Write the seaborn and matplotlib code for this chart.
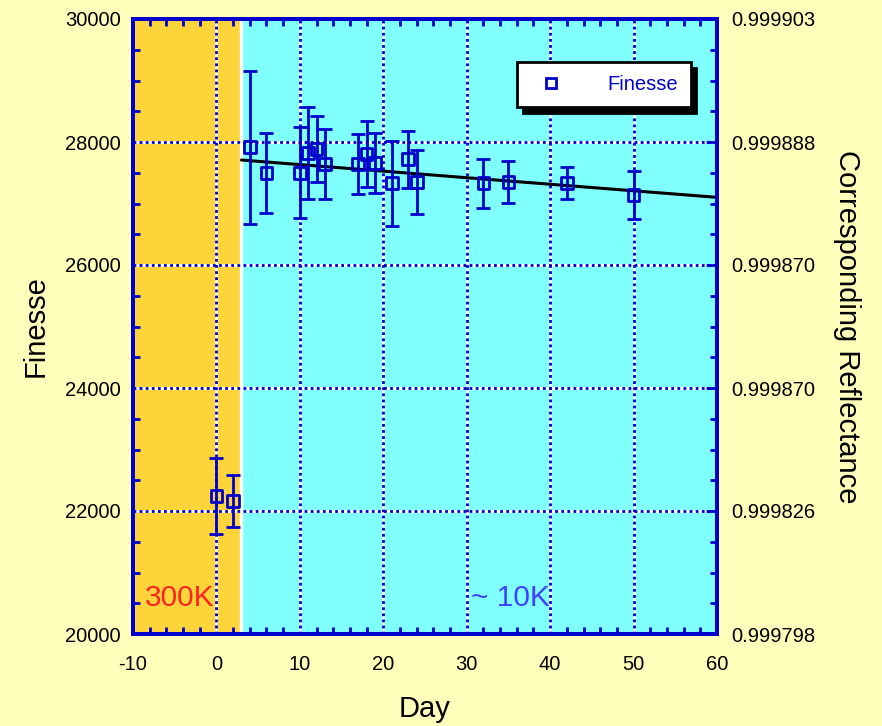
import matplotlib
matplotlib.use("Agg")
import matplotlib.pyplot as plt
from matplotlib.lines import Line2D
from matplotlib.ticker import MultipleLocator, FixedLocator
import seaborn as sns
import pandas as pd
import numpy as np

# ---- data ----
day = [0, 2, 4, 6, 10, 11, 12, 13, 17, 18, 19, 21, 23, 24, 32, 35, 42, 50]
finesse = [22244, 22163, 27914, 27501, 27501, 27827, 27886, 27637, 27637, 27805,
           27659, 27328, 27718, 27355, 27328, 27355, 27328, 27133]
finesse_err = [625, 430, 1240, 650, 740, 750, 530, 570, 485, 540,
               495, 690, 460, 520, 400, 340, 260, 390]
fit_day = [3, 60]
fit_finesse = [27707, 27100]
left_ticks = [20000, 22000, 24000, 26000, 28000, 30000]
right_labels = ["0.999798", "0.999826", "0.999870", "0.999870", "0.999888", "0.999903"]
x_ticks = [-10, 0, 10, 20, 30, 40, 50, 60]
warm_region = [-10, 3]
cold_region = [3, 60]

sns.set_theme(style="ticks")
plt.rcParams['font.family'] = ['Liberation Sans', 'DejaVu Sans']
plt.rcParams['axes.unicode_minus'] = False
plt.rcParams['text.color'] = 'black'
plt.rcParams['axes.labelcolor'] = 'black'

BLUE = "#0000CC"
fig = plt.figure(figsize=(8.82, 7.26), dpi=100, facecolor="#FFFFBB")
ax = fig.add_axes([133/882, 1-634/726, (717-133)/882, (634-19)/726])
ax.set_xlim(-10, 60)
ax.set_ylim(20000, 30000)

ax.axvspan(*warm_region, color="#FDD53A", zorder=0, lw=0)
ax.axvspan(*cold_region, color="#80FFFF", zorder=0, lw=0)
ax.axvline(cold_region[0], color="white", lw=2.5, zorder=1)

# grid: white under blue dots
for xv in x_ticks[1:-1]:
    ax.axvline(xv, color="white", lw=2, zorder=1)
    ax.axvline(xv, color=BLUE, lw=2, ls=(0, (1, 1.2)), zorder=1.1)
for yv in left_ticks[1:-1]:
    ax.axhline(yv, color="white", lw=2, zorder=1)
    ax.axhline(yv, color=BLUE, lw=2, ls=(0, (1, 1.2)), zorder=1.1)

df = pd.DataFrame({"day": day, "finesse": finesse, "err": finesse_err})
fit_df = pd.DataFrame({"day": fit_day, "finesse": fit_finesse})

sns.lineplot(data=fit_df, x="day", y="finesse", color="black", lw=2.2, ax=ax, zorder=3)
ax.errorbar(df["day"], df["finesse"], yerr=df["err"], fmt="none", ecolor=BLUE,
            elinewidth=2, capsize=5, capthick=2, zorder=4)
sns.scatterplot(data=df, x="day", y="finesse", marker="s", s=72, facecolor="none",
                edgecolor=BLUE, linewidth=2, ax=ax, zorder=5)

ax.text(-8.6, 20450, "300K", color="#FF2020", fontsize=21.5, ha="left", va="baseline", zorder=6)
ax.text(35.3, 20450, "~ 10K", color="#4040FF", fontsize=21.5, ha="center", va="baseline", zorder=6)

ax.set_xticks(x_ticks)
ax.set_yticks(left_ticks)
ax.xaxis.set_minor_locator(MultipleLocator(2))
ax.yaxis.set_minor_locator(MultipleLocator(500))
ax.tick_params(which="both", direction="in", color=BLUE, labelcolor="black",
               labelsize=14.5, top=True, right=False, width=2)
ax.tick_params(which="major", length=8)
ax.tick_params(axis="y", which="major", pad=9)
ax.tick_params(axis="x", which="major", pad=15)
ax.tick_params(which="minor", length=5)
for s in ax.spines.values():
    s.set_color(BLUE)
    s.set_linewidth(2.8)
    s.set_zorder(10)

ax.set_xlabel("Day", fontsize=21, labelpad=15, color="black")
ax.set_ylabel("Finesse", fontsize=21, labelpad=11, color="black")

ax2 = ax.twinx()
ax2.set_ylim(20000, 30000)
ax2.yaxis.set_major_locator(FixedLocator(left_ticks))
ax2.set_yticklabels(right_labels)
ax2.yaxis.set_minor_locator(MultipleLocator(500))
ax2.tick_params(which="both", direction="in", color=BLUE, labelcolor="black",
                labelsize=14.5, width=2)
ax2.tick_params(which="major", length=8, pad=10)
ax2.tick_params(which="minor", length=5)
for s in ax2.spines.values():
    s.set_color(BLUE)
    s.set_linewidth(2.8)
ax2.set_ylabel("Corresponding Reflectance", fontsize=21, rotation=270, labelpad=33,
               color="black")

handle = Line2D([], [], marker="s", ls="none", mfc="white", mec=BLUE, mew=2, ms=7.5)
leg = ax2.legend([handle], ["Finesse"], loc="upper right", bbox_to_anchor=(0.955, 0.930),
                 borderaxespad=0, frameon=True, fancybox=False, fontsize=14.5,
                 handlelength=2.0, handletextpad=1.8, borderpad=0.65,
                 shadow={"color": "black", "alpha": 1, "ox": 4, "oy": -4})
leg.get_frame().set_edgecolor("black")
leg.get_frame().set_linewidth(2)
for t in leg.get_texts():
    t.set_color(BLUE)

fig.savefig("out.png", dpi=100, facecolor=fig.get_facecolor())
